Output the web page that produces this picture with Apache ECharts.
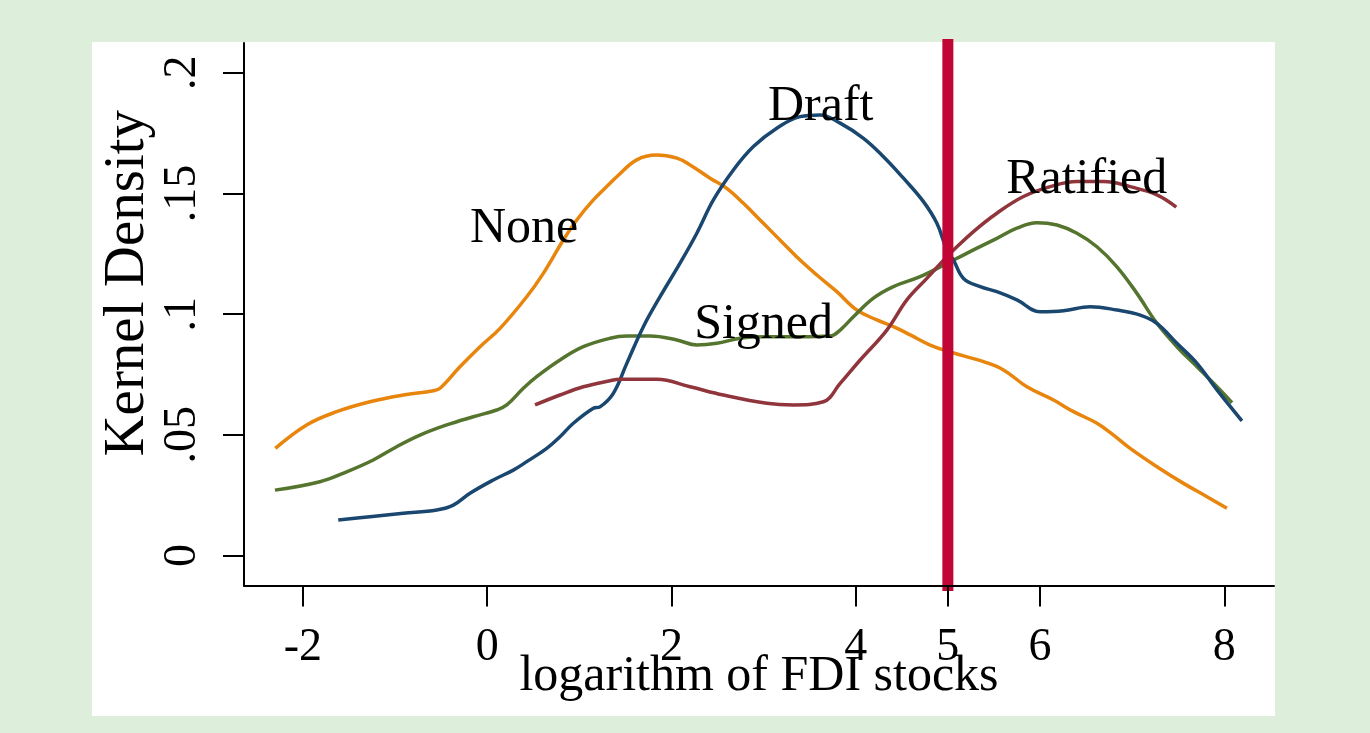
<!DOCTYPE html>
<html><head><meta charset="utf-8">
<script src="https://cdn.jsdelivr.net/npm/echarts@6/dist/echarts.min.js"></script>
<style>html,body{margin:0;padding:0;background:#ddeedb;} #c{width:1370px;height:733px;}</style>
</head><body><div id="c"></div>
<script>
// ---- data ----
const xTicks = [-2, 0, 2, 4, 5, 6, 8];
const yTicks = [0, 0.05, 0.1, 0.15, 0.2];
const yTickLabels = ['0', '.05', '.1', '.15', '.2'];
const threshold = 5;

const noneData = [[-2.30,0.0444],[-1.96,0.0541],[-1.634,0.0596],[-1.273,0.0637],[-0.911,0.0665],[-0.585,0.0683],[-0.512,0.0693],[-0.296,0.0782],[-0.078,0.0865],[0.139,0.0941],[0.429,0.1072],[0.609,0.1169],[0.826,0.1307],[0.972,0.1390],[1.152,0.1473],[1.333,0.1542],[1.406,0.1569],[1.623,0.1639],[1.840,0.1659],[2.058,0.1646],[2.202,0.1618],[2.419,0.1563],[2.600,0.1521],[2.781,0.1459],[2.998,0.1376],[3.215,0.1293],[3.396,0.1224],[3.578,0.1162],[3.795,0.1093],[4.012,0.1017],[4.229,0.0976],[4.409,0.0948],[4.591,0.0914],[4.808,0.0872],[5.025,0.0843],[5.387,0.0803],[5.604,0.0769],[5.858,0.0699],[6.147,0.0644],[6.364,0.0596],[6.618,0.0548],[6.798,0.0499],[6.979,0.0444],[7.269,0.0368],[7.558,0.0299],[7.812,0.0244],[8.029,0.0196]];

const signedData = [[-2.304,0.0271],[-1.816,0.0306],[-1.526,0.0347],[-1.237,0.0396],[-0.983,0.0451],[-0.730,0.0499],[-0.440,0.0541],[-0.151,0.0575],[0.103,0.0603],[0.212,0.0624],[0.392,0.0693],[0.537,0.0741],[0.790,0.0810],[1.043,0.0865],[1.333,0.0900],[1.515,0.0909],[1.768,0.0909],[2.058,0.0893],[2.275,0.0872],[2.492,0.0879],[2.745,0.0900],[3.035,0.0906],[3.396,0.0906],[3.722,0.0909],[3.831,0.0934],[3.975,0.0989],[4.192,0.1066],[4.409,0.1114],[4.699,0.1155],[5.025,0.1217],[5.278,0.1266],[5.532,0.1314],[5.749,0.1356],[5.966,0.1379],[6.184,0.1369],[6.401,0.1335],[6.618,0.1279],[6.835,0.1196],[7.052,0.1086],[7.269,0.0962],[7.486,0.0865],[7.704,0.0782],[7.921,0.0699],[8.084,0.0633]];

const draftData = [[-1.617,0.0147],[-1.273,0.0161],[-0.911,0.0175],[-0.548,0.0189],[-0.368,0.0209],[-0.187,0.0258],[0.066,0.0313],[0.283,0.0354],[0.429,0.0389],[0.646,0.0444],[0.790,0.0492],[0.935,0.0548],[1.152,0.0610],[1.224,0.0616],[1.369,0.0672],[1.515,0.0796],[1.695,0.0948],[1.876,0.1072],[2.093,0.1211],[2.275,0.1335],[2.455,0.1473],[2.672,0.1597],[2.889,0.1694],[3.143,0.1770],[3.396,0.1818],[3.613,0.1825],[3.831,0.1791],[4.084,0.1728],[4.301,0.1652],[4.518,0.1563],[4.735,0.1466],[4.881,0.1376],[4.989,0.1266],[5.061,0.1224],[5.170,0.1148],[5.351,0.1114],[5.532,0.1093],[5.749,0.1059],[6.002,0.1010],[6.255,0.1014],[6.545,0.1031],[6.835,0.1017],[7.088,0.0996],[7.269,0.0962],[7.486,0.0879],[7.704,0.0796],[7.921,0.0686],[8.192,0.0558]];

const ratifiedData = [[0.519,0.0624],[0.790,0.0665],[1.043,0.0699],[1.333,0.0724],[1.442,0.0730],[1.840,0.0730],[2.202,0.0699],[2.563,0.0665],[3.035,0.0631],[3.324,0.0624],[3.649,0.0637],[3.831,0.0713],[4.048,0.0810],[4.338,0.0934],[4.555,0.1059],[4.772,0.1148],[4.989,0.1238],[5.025,0.1252],[5.278,0.1342],[5.532,0.1418],[5.821,0.1487],[6.111,0.1528],[6.401,0.1549],[6.690,0.1549],[6.979,0.1528],[7.269,0.1494],[7.479,0.1443]];

const curveLabels = [[0.40,0.1352,'None'],[3.62,0.1857,'Draft'],[3.0,0.0956,'Signed'],[6.507,0.1557,'Ratified']];

// ---- chart ----
const serif = "'Liberation Serif','Times New Roman',serif";
const chart = echarts.init(document.getElementById('c'), null, {renderer:'canvas'});
const line = (name, data, color) => ({
  name, type:'line', data, showSymbol:false, symbol:'none', smooth:0.4,
  lineStyle:{color, width:3.5}, z:2, animation:false
});
chart.setOption({
  backgroundColor:'#ddeedb',
  animation:false,
  graphic:[{type:'rect', shape:{x:92, y:42, width:1183, height:674}, style:{fill:'#ffffff'}, z:-10, silent:true}],
  grid:{left:244, top:43, right:96, bottom:147.5, containLabel:false},
  xAxis:{
    type:'value', min:-2.64, max:8.54, z:3,
    name:'logarithm of FDI stocks', nameLocation:'middle', nameGap:66, nameMoveOverlap:false,
    nameTextStyle:{fontFamily:serif, fontSize:50, color:'#000'},
    axisLine:{show:true, onZero:false, lineStyle:{color:'#000', width:2}},
    axisTick:{show:true, length:21, lineStyle:{color:'#000', width:2}, customValues:xTicks},
    axisLabel:{show:true, margin:39, fontFamily:serif, fontSize:46, color:'#000', customValues:xTicks,
      formatter:v=>String(v)},
    splitLine:{show:false}
  },
  yAxis:{
    type:'value', min:-0.0124, max:0.2123, z:3,
    name:'Kernel Density', nameLocation:'middle', nameGap:87, nameRotate:90, nameMoveOverlap:false,
    nameTextStyle:{fontFamily:serif, fontSize:57, color:'#000', padding:[0,0,0,62]},
    axisLine:{show:true, onZero:false, lineStyle:{color:'#000', width:2}},
    axisTick:{show:true, length:21, lineStyle:{color:'#000', width:2}, customValues:yTicks},
    axisLabel:{show:true, rotate:90, margin:38, fontFamily:serif, fontSize:46, color:'#000', customValues:yTicks,
      formatter:v=>{const i=yTicks.findIndex(t=>Math.abs(t-v)<1e-9); return i>=0?yTickLabels[i]:'';}},
    splitLine:{show:false}
  },
  series:[
    line('None', noneData, '#e8850c'),
    line('Signed', signedData, '#55752f'),
    line('Draft', draftData, '#1a476f'),
    line('Ratified', ratifiedData, '#90353b'),
    {type:'line', name:'threshold', data:[[threshold,0.2140],[threshold,-0.0147]], clip:false,
     showSymbol:false, symbol:'none', lineStyle:{color:'#c10534', width:11, cap:'butt'}, z:2.5},
    {type:'scatter', name:'labels', data:curveLabels, symbolSize:0, z:4,
     label:{show:true, position:'inside', formatter:p=>p.data[2], fontFamily:serif, fontSize:50,
       color:'#000', textBorderWidth:0, textBorderColor:'transparent', opacity:1}}
  ]
});
</script></body></html>
